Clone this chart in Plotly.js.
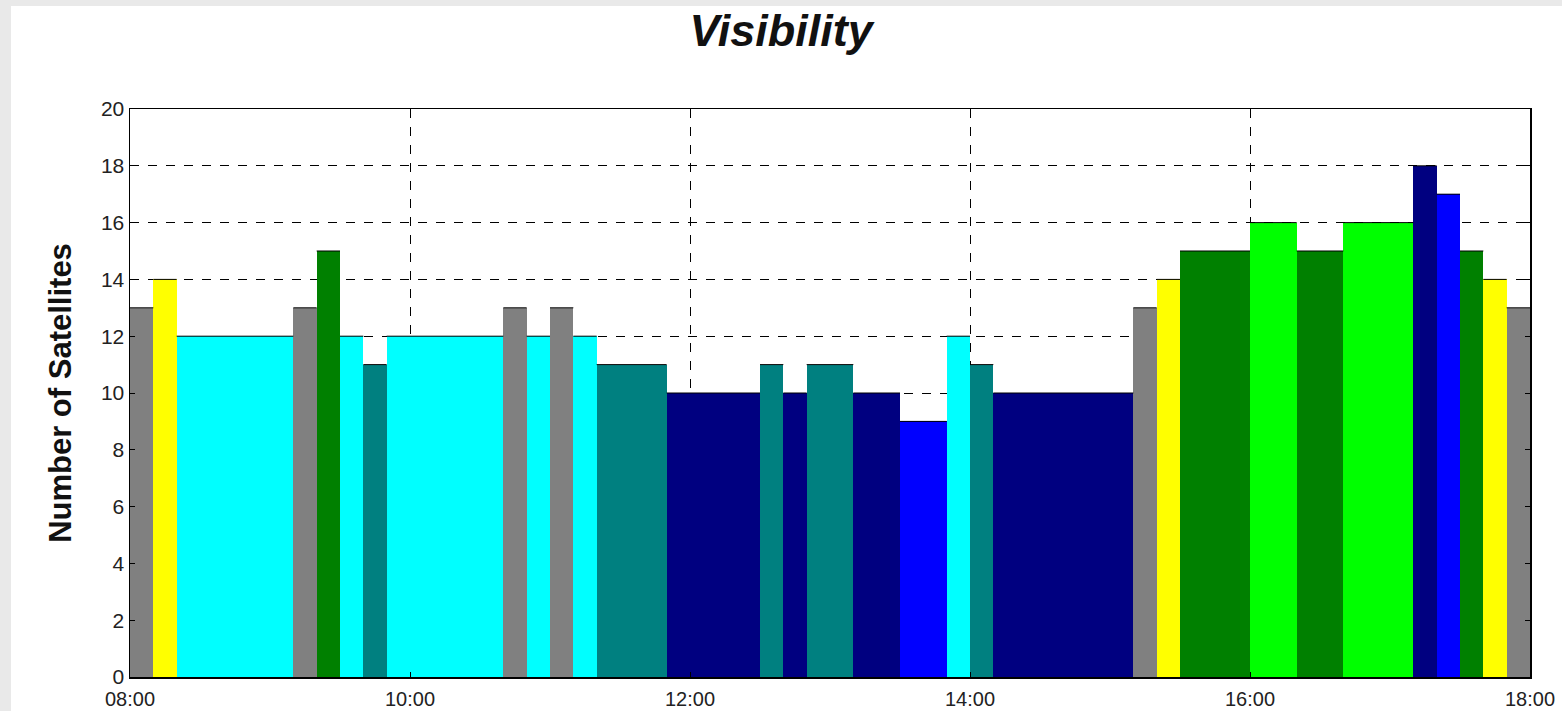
<!DOCTYPE html>
<html>
<head>
<meta charset="utf-8">
<script src="https://cdn.plot.ly/plotly-3.0.1.min.js"></script>
<style>
html,body{margin:0;padding:0;background:#e9e9e9;width:1562px;height:711px;overflow:hidden;}
#chart{position:absolute;left:11px;top:6px;width:1551px;height:705px;background:#fff;}
</style>
</head>
<body>
<div id="chart"></div>
<script>
const DAY = "2000-01-01 ";
const startTimes = ["08:00","08:10","08:20","09:10","09:20","09:30","09:40","09:50","10:40","10:50","11:00","11:10","11:20","11:50","12:30","12:40","12:50","13:10","13:30","13:50","14:00","14:10","15:10","15:20","15:30","16:00","16:20","16:40","17:10","17:20","17:30","17:40","17:50"];
const endTimes   = ["08:10","08:20","09:10","09:20","09:30","09:40","09:50","10:40","10:50","11:00","11:10","11:20","11:50","12:30","12:40","12:50","13:10","13:30","13:50","14:00","14:10","15:10","15:20","15:30","16:00","16:20","16:40","17:10","17:20","17:30","17:40","17:50","18:00"];
const satCounts  = [13,14,12,13,15,12,11,12,13,12,13,12,11,10,11,10,11,10,9,12,11,10,13,14,15,16,15,16,18,17,15,14,13];
const barColors  = ["#808080","#ffff00","#00ffff","#808080","#008000","#00ffff","#008080","#00ffff","#808080","#00ffff","#808080","#00ffff","#008080","#000080","#008080","#000080","#008080","#000080","#0000ff","#00ffff","#008080","#000080","#808080","#ffff00","#008000","#00ff00","#008000","#00ff00","#000080","#0000ff","#008000","#ffff00","#808080"];
const xTickLabels = ["08:00","10:00","12:00","14:00","16:00","18:00"];
const yTicks = [0,2,4,6,8,10,12,14,16,18,20];

function toMs(t){ const [h,m]=t.split(":").map(Number); return (h*60+m)*60000; }

const xs = startTimes.map(t => DAY + t);
const widths = startTimes.map((t,i) => toMs(endTimes[i]) - toMs(t));

const bars = {
  type: "bar",
  x: xs,
  y: satCounts,
  width: widths,
  offset: 0,
  marker: {color: barColors, line: {width: 0}},
  hoverinfo: "y"
};

// thin black lines at bar tops
const topX = [], topY = [];
startTimes.forEach((t,i) => {
  topX.push(DAY + t, DAY + endTimes[i], null);
  topY.push(satCounts[i], satCounts[i], null);
});
const tops = {
  type: "scatter", mode: "lines", x: topX, y: topY,
  line: {color: "#000", width: 1}, hoverinfo: "skip", connectgaps: false
};

const layout = {
  width: 1551, height: 705,
  margin: {l: 119, r: 32, t: 103, b: 34},
  paper_bgcolor: "#fff", plot_bgcolor: "#fff",
  showlegend: false,
  font: {family: "Liberation Sans, Arial, sans-serif", color: "#111", size: 21},
  title: {text: "<b><i>Visibility</i></b>", x: 0.4965, xanchor: "center", y: 0.966, yanchor: "middle",
          font: {size: 45, color: "#111", family: "Liberation Sans, Arial, sans-serif"}},
  xaxis: {
    type: "date",
    range: [DAY + "08:00", DAY + "18:00"],
    tickmode: "array",
    tickvals: xTickLabels.map(t => DAY + t),
    ticktext: xTickLabels,
    ticks: "inside", ticklen: 5, tickcolor: "#000",
    ticklabelstandoff: 3,
    showline: true, linecolor: "#000", linewidth: 1.5, mirror: "ticks",
    showgrid: true, gridcolor: "#000", griddash: "dash", gridwidth: 1,
    zeroline: false, fixedrange: true,
    tickfont: {size: 20, color: "#222"}
  },
  yaxis: {
    range: [0, 20],
    tickvals: yTicks,
    ticks: "inside", ticklen: 5, tickcolor: "#000",
    showline: true, linecolor: "#000", linewidth: 1.5, mirror: "ticks",
    showgrid: true, gridcolor: "#000", griddash: "dash", gridwidth: 1,
    zeroline: false, fixedrange: true,
    tickfont: {size: 21, color: "#222"},
    title: {text: "<b>Number of Satellites</b>", standoff: 20, font: {size: 31, color: "#111"}}
  },
  bargap: 0
};

Plotly.newPlot("chart", [bars, tops], layout, {displayModeBar: false, staticPlot: true});
</script>
</body>
</html>
